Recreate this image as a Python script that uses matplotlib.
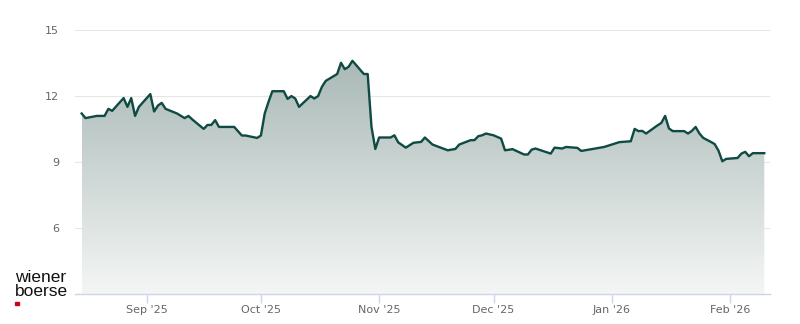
import numpy as np
import pandas as pd
import matplotlib
matplotlib.use("Agg")
import matplotlib.pyplot as plt
import matplotlib.dates as mdates
from matplotlib.colors import LinearSegmentedColormap

# price series
dates = [
    "2025-08-15", "2025-08-16", "2025-08-19", "2025-08-21", "2025-08-22", "2025-08-23",
    "2025-08-26", "2025-08-27", "2025-08-28", "2025-08-29", "2025-08-30",
    "2025-09-02", "2025-09-03", "2025-09-04", "2025-09-05", "2025-09-06", "2025-09-09",
    "2025-09-11", "2025-09-12", "2025-09-13", "2025-09-16", "2025-09-17", "2025-09-18",
    "2025-09-19", "2025-09-20", "2025-09-24", "2025-09-26", "2025-09-27", "2025-09-30",
    "2025-10-01", "2025-10-02", "2025-10-03", "2025-10-04", "2025-10-07", "2025-10-08",
    "2025-10-09", "2025-10-10", "2025-10-11", "2025-10-14", "2025-10-15", "2025-10-16",
    "2025-10-17", "2025-10-18", "2025-10-21", "2025-10-22", "2025-10-23", "2025-10-24",
    "2025-10-25", "2025-10-28", "2025-10-29", "2025-10-30", "2025-10-31",
    "2025-11-01", "2025-11-04", "2025-11-05", "2025-11-06", "2025-11-08", "2025-11-10",
    "2025-11-12", "2025-11-13", "2025-11-15", "2025-11-19", "2025-11-21", "2025-11-22",
    "2025-11-25", "2025-11-26", "2025-11-27", "2025-11-28", "2025-11-29",
    "2025-12-01", "2025-12-03", "2025-12-04", "2025-12-06", "2025-12-09", "2025-12-10",
    "2025-12-11", "2025-12-12", "2025-12-16", "2025-12-17", "2025-12-19", "2025-12-20",
    "2025-12-23", "2025-12-24", "2025-12-30",
    "2026-01-03", "2026-01-06", "2026-01-07", "2026-01-08", "2026-01-09", "2026-01-10",
    "2026-01-13", "2026-01-14", "2026-01-15", "2026-01-16", "2026-01-17", "2026-01-20",
    "2026-01-21", "2026-01-22", "2026-01-23", "2026-01-24", "2026-01-25", "2026-01-27",
    "2026-01-28", "2026-01-29", "2026-01-30", "2026-01-31",
    "2026-02-03", "2026-02-04", "2026-02-05", "2026-02-06", "2026-02-07", "2026-02-10",
]
prices = [
    11.19, 10.98, 11.08, 11.08, 11.40, 11.31,
    11.89, 11.49, 11.89, 11.08, 11.49,
    12.07, 11.28, 11.55, 11.67, 11.40, 11.19,
    10.98, 11.08, 10.92, 10.49, 10.67, 10.67,
    10.89, 10.58, 10.58, 10.19, 10.19, 10.08,
    10.19, 11.19, 11.72, 12.20, 12.20, 11.85,
    11.98, 11.87, 11.49, 11.98, 11.87, 11.98,
    12.40, 12.67, 12.98, 13.49, 13.20, 13.31,
    13.58, 12.98, 12.98, 10.58, 9.58,
    10.10, 10.10, 10.20, 9.88, 9.64, 9.86,
    9.90, 10.10, 9.78, 9.52, 9.58, 9.78,
    9.98, 9.98, 10.16, 10.20, 10.28,
    10.20, 10.05, 9.52, 9.57, 9.33, 9.33,
    9.55, 9.60, 9.37, 9.64, 9.60, 9.67,
    9.63, 9.49, 9.67,
    9.89, 9.93, 10.49, 10.39, 10.40, 10.28,
    10.65, 10.76, 11.08, 10.51, 10.39, 10.39,
    10.28, 10.40, 10.58, 10.28, 10.08, 9.90,
    9.80, 9.50, 9.02, 9.13,
    9.17, 9.37, 9.45, 9.25, 9.39, 9.39,
]
month_ticks = ["2025-09-01", "2025-10-01", "2025-11-01", "2025-12-01", "2026-01-01", "2026-02-01"]
y_ticks = [6, 9, 12, 15]

x = mdates.date2num(pd.to_datetime(dates))
y = np.array(prices)

fig = plt.figure(figsize=(8, 3.24), dpi=100)
ax = fig.add_axes([75 / 800, 1 - 294 / 324, 695 / 800, 264.5 / 324])

x_min = mdates.date2num(pd.Timestamp("2025-08-13 06:00"))
x_max = mdates.date2num(pd.Timestamp("2026-02-11 12:00"))

# gradient fill under the line
fill = ax.fill_between(x, y, 3, facecolor="none", edgecolor="none")
cmap = LinearSegmentedColormap.from_list("fade", ["#f4f6f5", "#a9b9b6"])
grad = np.linspace(0, 1, 256).reshape(-1, 1)
img = ax.imshow(grad, cmap=cmap, aspect="auto", origin="lower",
                extent=[x[0], x[-1], 3, y.max()], zorder=1)
img.set_clip_path(fill.get_paths()[0], transform=ax.transData)
ax.set_xlim(x_min, x_max)
ax.set_ylim(3, 15)

ax.plot(x, y, color="#0f4a43", linewidth=1.7, zorder=3, solid_joinstyle="round")

# grid and axes styling (no label at the baseline 3)
ax.set_yticks(y_ticks)
ax.set_yticklabels([str(v) for v in y_ticks])
for v in y_ticks:
    ax.axhline(v, color="#e6e6e6", linewidth=0.8, zorder=0)

ax.set_xticks(mdates.date2num(pd.to_datetime(month_ticks)))
ax.xaxis.set_major_formatter(mdates.DateFormatter("%b '%y"))

for side in ["top", "right", "left"]:
    ax.spines[side].set_visible(False)
ax.spines["bottom"].set_color("#ccd6eb")
ax.spines["bottom"].set_linewidth(1)
ax.spines["bottom"].set_zorder(4)

ax.tick_params(axis="x", colors="#666666", labelsize=8, length=6.5, width=1,
               color="#ccd6eb", pad=1.5)
ax.tick_params(axis="y", colors="#666666", labelsize=8, length=0, pad=11.5)

# logo (one text block, two lines)
fig.text(15 / 800, 1 - 296.5 / 324, "wiener\nboerse", fontsize=12.5, color="#111111",
         family="Liberation Sans", va="baseline", ha="left", linespacing=0.92)
fig.patches.append(plt.Rectangle((15 / 800, 1 - 305 / 324), 4 / 800, 3.5 / 324,
                                 transform=fig.transFigure, color="#d0021b"))

fig.savefig("out.png", dpi=100)
